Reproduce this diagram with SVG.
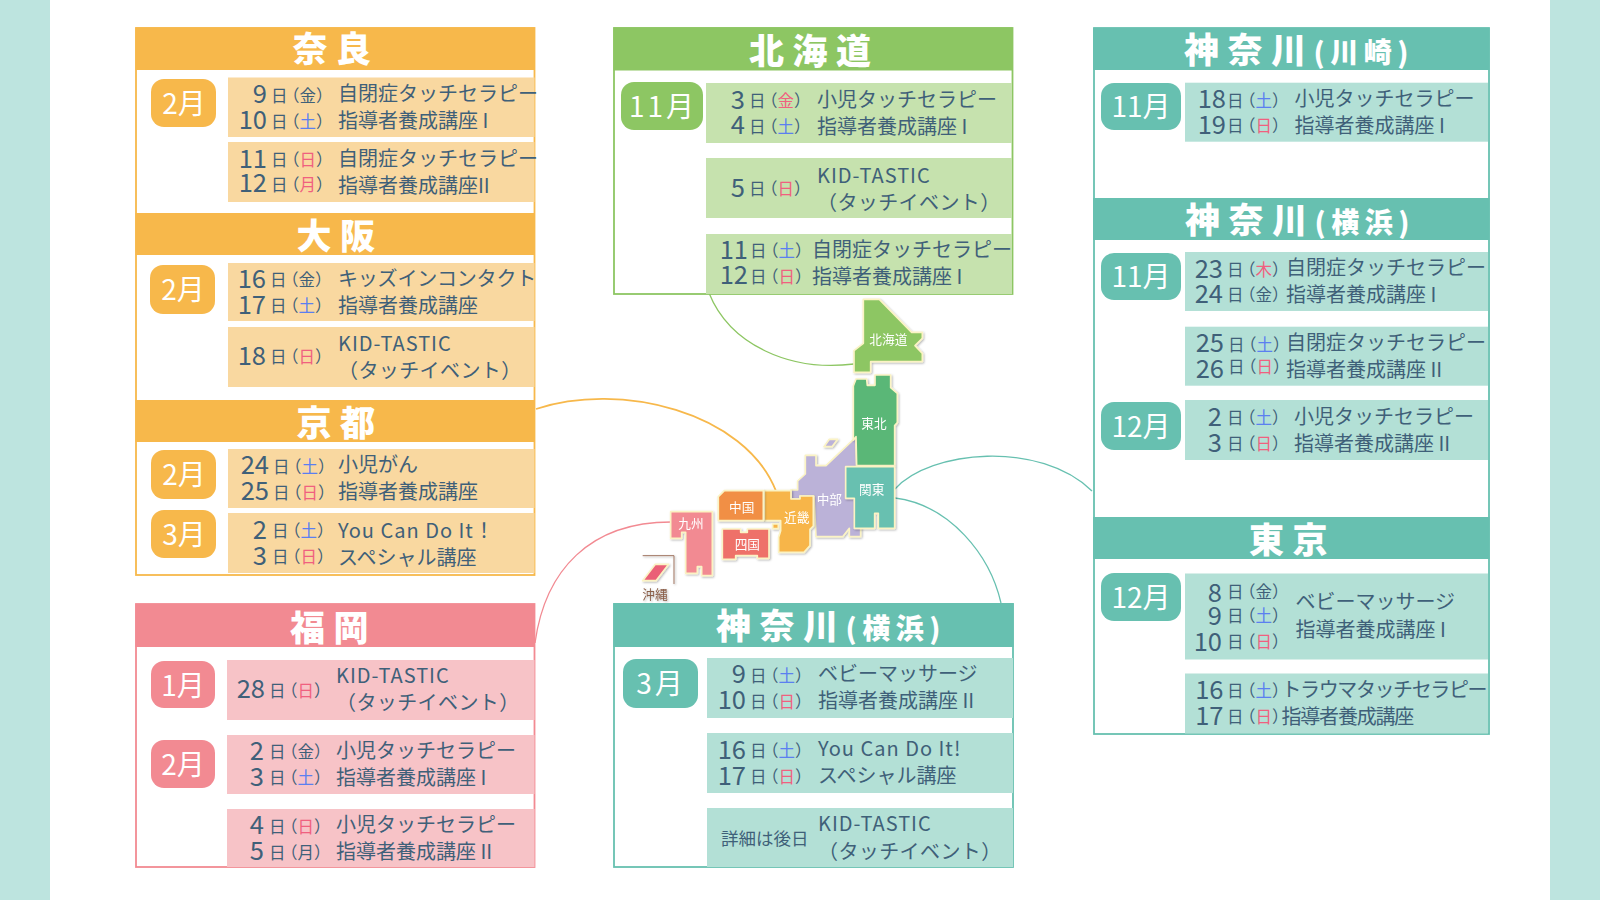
<svg xmlns="http://www.w3.org/2000/svg" width="1600" height="900" viewBox="0 0 1600 900">
<style>
text{font-family:"Noto Sans CJK JP","Noto Sans",sans-serif}
.h{font-size:35px;font-weight:900;fill:#fff;letter-spacing:8.5px}
.hs{font-size:28px;letter-spacing:5.5px}
.m{font-size:28px;fill:#fff;text-anchor:middle;transform:translateY(1px)}
.mw{letter-spacing:3px}
.n{font-size:25.5px;fill:#3f6079;text-anchor:end}
.w{font-size:16.5px;fill:#3f6079;transform:translateY(-1.5px)}
.j{font-size:20px;fill:#3f6079;transform:translateY(1px)}
.l{letter-spacing:1px}
.k{letter-spacing:.4px}
.b{fill:#5b7ff0}.r{fill:#f0607f}
.o{fill:#f7b84b}.ol{fill:#f9d8a0}.os{stroke:#f7b84b}
.p{fill:#f28a92}.pl{fill:#f7c3c7}.ps{stroke:#f28a92}
.g{fill:#8dc663}.gl{fill:#c6e2ae}.gs{stroke:#8dc663}
.t{fill:#67c0b0}.tl{fill:#b3e0d6}.ts{stroke:#67c0b0}
.f{fill:#fff;stroke-width:1.8}
.c{fill:none;stroke-width:1.3}
.c2{stroke-width:1.8}
.reg polygon,.reg rect{stroke:#fbf3c4;stroke-width:5;stroke-linejoin:round}
.reg text{font-size:38px;fill:#fff;text-anchor:middle}
</style>
<defs><filter id="sh" x="-20%" y="-20%" width="140%" height="140%"><feDropShadow dx="3" dy="3" stdDeviation="2.5" flood-color="#000" flood-opacity=".3"/></filter></defs>
<rect width="1600" height="900" fill="#fff"/>
<rect width="50" height="900" fill="#bde4df"/><rect x="1550" width="50" height="900" fill="#bde4df"/>

<g id="connectors">
<path class="c" stroke="#8dc663" d="M709,293C730,345 790,372 854,364"/>
<path class="c c2" stroke="#f7b84b" d="M536,409C620,381 745,412 776,491"/>
<path class="c" stroke="#f28a92" d="M535,643C545,570 590,522 671,522"/>
<path class="c" stroke="#67c0b0" d="M895,489C930,450 1040,440 1092,491"/>
<path class="c" stroke="#67c0b0" d="M895,498C950,505 990,555 1001,603"/>
</g>

<g id="map" transform="translate(620,280) scale(.33333)">
<g id="r-hokkaido" class="reg" filter="url(#sh)"><polygon class="g" points="730,58 778,58 875,157 907,157 907,175 885,197 907,220 907,245 752,245 752,277 702,277 702,212 730,190"/><text x="805" y="193">北海道</text></g>
<g id="r-chubu" class="reg" filter="url(#sh)"><polygon fill="#bbb2d8" points="628,478 653,478 636,500 612,500"/><polygon fill="#bbb2d8" points="707,472 710,558 722,745 722,770 688,770 688,745 668,770 588,770 582,648 540,648 540,657 513,657 513,630 533,630 533,603 556,582 556,526 588,526 588,557 618,557"/><text x="628" y="673">中部</text></g>
<g id="r-tohoku" class="reg" filter="url(#sh)"><polygon fill="#5ab777" points="708,297 740,297 742,316 765,316 765,285 812,285 812,323 832,340 832,428 824,437 824,557 710,557 708,470 700,480 700,318"/><text x="762" y="443">東北</text></g>
<g id="r-kanto" class="reg" filter="url(#sh)"><polygon class="t" points="677,560 824,560 824,745 775,745 775,700 764,700 764,745 703,745 703,655 677,655"/><text x="755" y="641">関東</text></g>
<g id="r-kinki" class="reg" filter="url(#sh)"><polygon fill="#f7b548" points="433,632 513,632 513,657 540,657 540,648 580,648 580,738 570,748 570,797 552,817 476,817 476,772 482,752 482,722 433,722"/><rect x="458" y="732" width="17" height="14" fill="#f7b548"/><text x="530" y="725">近畿</text></g>
<g id="r-chugoku" class="reg" filter="url(#sh)"><polygon fill="#f18f44" points="313,632 430,632 430,722 295,722 295,650"/><text x="365" y="695">中国</text></g>
<g id="r-shikoku" class="reg" filter="url(#sh)"><polygon fill="#ee7169" points="307,747 362,747 362,757 382,757 382,747 447,747 447,835 412,835 412,827 347,827 347,838 307,838"/><text x="382" y="806">四国</text></g>
<g id="r-kyushu" class="reg" filter="url(#sh)"><polygon class="p" points="152,695 277,695 277,887 245,887 245,860 232,860 232,880 197,880 197,757 185,757 185,775 152,775"/><text x="213" y="745">九州</text></g>
<g id="r-okinawa" class="reg" filter="url(#sh)"><path d="M68,827H162V912" fill="none" stroke="#a07460" stroke-width="3"/><polygon fill="#ea6077" points="106,853 146,853 108,902 68,902"/><text x="105" y="958" style="fill:#8a5e48">沖縄</text></g>
</g>

<g id="panel-left">
<rect class="f os" x="136" y="28" width="398.5" height="547"/>
<g id="nara">
<rect class="o" x="135.5" y="27.5" width="399" height="42.5"/>
<text class="h" x="292.5" y="62">奈良</text>
<rect class="o" x="151" y="79" width="65" height="48" rx="13"/><text class="m" x="184" y="113">2月</text>
<g transform="translate(228,77.5)"><rect class="ol" width="306.5" height="59.5"/>
<text class="n" x="39" y="25.5">9</text><text class="w" x="43" y="25.5">日<tspan dx="-4.5">（</tspan>金）</text><text class="j" x="110" y="22">自閉症タッチセラピー</text>
<text class="n" x="39" y="51.5">10</text><text class="w" x="43" y="51.5">日<tspan dx="-4.5">（</tspan><tspan class="b">土</tspan>）</text><text class="j" x="110" y="49">指導者養成講座 I</text></g>
<g transform="translate(228,142)"><rect class="ol" width="306.5" height="60"/>
<text class="n" x="39" y="25.5">11</text><text class="w" x="43" y="25.5">日<tspan dx="-4.5">（</tspan><tspan class="r">日</tspan>）</text><text class="j" x="110" y="23">自閉症タッチセラピー</text>
<text class="n" x="39" y="50">12</text><text class="w" x="43" y="50">日<tspan dx="-4.5">（</tspan><tspan class="r">月</tspan>）</text><text class="j" x="110" y="50">指導者養成講座II</text></g>
</g>
<g id="osaka">
<rect class="o" x="135.5" y="213" width="399" height="42"/>
<text class="h" x="296.5" y="249">大阪</text>
<rect class="o" x="150" y="265" width="65" height="49" rx="13"/><text class="m" x="183" y="299">2月</text>
<g transform="translate(228,263)"><rect class="ol" width="306.5" height="58"/>
<text class="n" x="38" y="24.5">16</text><text class="w" x="42" y="24.5">日<tspan dx="-4.5">（</tspan>金）</text><text class="j" x="110" y="21.5" style="letter-spacing:-.2px">キッズインコンタクト</text>
<text class="n" x="38" y="50.5">17</text><text class="w" x="42" y="50.5">日<tspan dx="-4.5">（</tspan><tspan class="b">土</tspan>）</text><text class="j" x="110" y="48.5">指導者養成講座</text></g>
<g transform="translate(228,327)"><rect class="ol" width="306.5" height="60"/>
<text class="n" x="38" y="37.5">18</text><text class="w" x="42" y="37.5">日<tspan dx="-4.5">（</tspan><tspan class="r">日</tspan>）</text><text class="j l" x="110" y="23">KID-TASTIC</text><text class="j k" x="110" y="49.5">（タッチイベント）</text></g>
</g>
<g id="kyoto">
<rect class="o" x="135.5" y="400" width="399" height="42"/>
<text class="h" x="296.5" y="436">京都</text>
<rect class="o" x="151" y="450" width="65" height="49" rx="13"/><text class="m" x="184" y="484">2月</text>
<rect class="o" x="151" y="510" width="65" height="48" rx="13"/><text class="m" x="184" y="544">3月</text>
<g transform="translate(228,449)"><rect class="ol" width="306.5" height="59"/>
<text class="n" x="41" y="25">24</text><text class="w" x="45" y="25">日<tspan dx="-4.5">（</tspan><tspan class="b">土</tspan>）</text><text class="j" x="110" y="22">小児がん</text>
<text class="n" x="41" y="51">25</text><text class="w" x="45" y="51">日<tspan dx="-4.5">（</tspan><tspan class="r">日</tspan>）</text><text class="j" x="110" y="49">指導者養成講座</text></g>
<g transform="translate(228,513)"><rect class="ol" width="306.5" height="60"/>
<text class="n" x="39" y="25.5">2</text><text class="w" x="44" y="25.5">日<tspan dx="-4.5">（</tspan><tspan class="b">土</tspan>）</text><text class="j l" x="110" y="24">You Can Do It！</text>
<text class="n" x="39" y="51.5">3</text><text class="w" x="44" y="51.5">日<tspan dx="-4.5">（</tspan><tspan class="r">日</tspan>）</text><text class="j" x="110" y="51">スペシャル講座</text></g>
</g>
</g>

<g id="fukuoka">
<rect class="f ps" x="136" y="604" width="398.5" height="263"/>
<rect class="p" x="135.5" y="604" width="399" height="43"/>
<text class="h" x="290" y="641">福岡</text>
<rect class="p" x="151" y="661" width="64" height="47" rx="13"/><text class="m" x="183" y="695">1月</text>
<rect class="p" x="151" y="740" width="64" height="48" rx="13"/><text class="m" x="183" y="774">2月</text>
<g transform="translate(227,660)"><rect class="pl" width="307.5" height="60"/>
<text class="n" x="38" y="38">28</text><text class="w" x="42" y="38">日<tspan dx="-4.5">（</tspan><tspan class="r">日</tspan>）</text><text class="j l" x="109" y="22">KID-TASTIC</text><text class="j k" x="109" y="49">（タッチイベント）</text></g>
<g transform="translate(227,735)"><rect class="pl" width="307.5" height="59"/>
<text class="n" x="37" y="24.5">2</text><text class="w" x="42" y="24.5">日<tspan dx="-4.5">（</tspan>金）</text><text class="j" x="109" y="22">小児タッチセラピー</text>
<text class="n" x="37" y="50.5">3</text><text class="w" x="42" y="50.5">日<tspan dx="-4.5">（</tspan><tspan class="b">土</tspan>）</text><text class="j" x="109" y="49">指導者養成講座 I</text></g>
<g transform="translate(227,809)"><rect class="pl" width="307.5" height="58"/>
<text class="n" x="37" y="25">4</text><text class="w" x="42" y="25">日<tspan dx="-4.5">（</tspan><tspan class="r">日</tspan>）</text><text class="j" x="109" y="22">小児タッチセラピー</text>
<text class="n" x="37" y="51">5</text><text class="w" x="42" y="51">日<tspan dx="-4.5">（</tspan>月）</text><text class="j" x="109" y="49">指導者養成講座 II</text></g>
</g>

<g id="hokkaido">
<rect class="f gs" x="614" y="28" width="398.5" height="266"/>
<rect class="g" x="613.5" y="27.5" width="399" height="43"/>
<text class="h" x="749" y="64">北海道</text>
<rect class="g" x="621" y="82" width="82" height="48" rx="13"/><text class="m mw" x="663" y="116">11月</text>
<g transform="translate(706,83)"><rect class="gl" width="306" height="60"/>
<text class="n" x="39" y="25.5">3</text><text class="w" x="43" y="25.5">日<tspan dx="-4.5">（</tspan><tspan class="r">金</tspan>）</text><text class="j" x="111" y="22.5">小児タッチセラピー</text>
<text class="n" x="39" y="51">4</text><text class="w" x="43" y="51">日<tspan dx="-4.5">（</tspan><tspan class="b">土</tspan>）</text><text class="j" x="111" y="50">指導者養成講座 I</text></g>
<g transform="translate(706,158)"><rect class="gl" width="306" height="60"/>
<text class="n" x="39" y="38.5">5</text><text class="w" x="43" y="38.5">日<tspan dx="-4.5">（</tspan><tspan class="r">日</tspan>）</text><text class="j l" x="111" y="24">KID-TASTIC</text><text class="j k" x="111" y="51">（タッチイベント）</text></g>
<g transform="translate(706,234)"><rect class="gl" width="306" height="60"/>
<text class="n" x="42" y="24.5">11</text><text class="w" x="44" y="24.5">日<tspan dx="-4.5">（</tspan><tspan class="b">土</tspan>）</text><text class="j" x="106" y="22">自閉症タッチセラピー</text>
<text class="n" x="42" y="50">12</text><text class="w" x="44" y="50">日<tspan dx="-4.5">（</tspan><tspan class="r">日</tspan>）</text><text class="j" x="106" y="48.5">指導者養成講座 I</text></g>
</g>

<g id="yokohama-bottom">
<rect class="f ts" x="614" y="604" width="399" height="263"/>
<rect class="t" x="613.5" y="603" width="400" height="44"/>
<text class="h" x="716" y="638.5">神奈川<tspan class="hs" dx="-1">(横浜)</tspan></text>
<rect class="t" x="623" y="659" width="75" height="49" rx="13"/><text class="m mw" x="661" y="693">3月</text>
<g transform="translate(707,658)"><rect class="tl" width="306" height="60"/>
<text class="n" x="39" y="25">9</text><text class="w" x="43" y="25">日<tspan dx="-4.5">（</tspan><tspan class="b">土</tspan>）</text><text class="j" x="111" y="22">ベビーマッサージ</text>
<text class="n" x="39" y="51">10</text><text class="w" x="43" y="51">日<tspan dx="-4.5">（</tspan><tspan class="r">日</tspan>）</text><text class="j" x="111" y="49">指導者養成講座 II</text></g>
<g transform="translate(707,733)"><rect class="tl" width="306" height="60"/>
<text class="n" x="39" y="25.5">16</text><text class="w" x="43" y="25.5">日<tspan dx="-4.5">（</tspan><tspan class="b">土</tspan>）</text><text class="j l" x="111" y="22">You Can Do It!</text>
<text class="n" x="39" y="51.5">17</text><text class="w" x="43" y="51.5">日<tspan dx="-4.5">（</tspan><tspan class="r">日</tspan>）</text><text class="j" x="111" y="49">スペシャル講座</text></g>
<g transform="translate(707,808)"><rect class="tl" width="306" height="59"/>
<text class="j" x="14" y="36" style="font-size:17.5px">詳細は後日</text>
<text class="j l" x="111" y="22">KID-TASTIC</text><text class="j k" x="111" y="49.5">（タッチイベント）</text></g>
</g>

<g id="panel-right">
<rect class="f ts" x="1094" y="28" width="395" height="706"/>
<g id="kawasaki">
<rect class="t" x="1093" y="28" width="396.5" height="42"/>
<text class="h" x="1184" y="63">神奈川<tspan class="hs" dx="-1">(川崎)</tspan></text>
<rect class="t" x="1101" y="83" width="80" height="47" rx="13"/><text class="m" x="1141" y="116">11月</text>
<g transform="translate(1185,82.7)"><rect class="tl" width="303" height="59"/>
<text class="n" x="41" y="25.5">18</text><text class="w" x="42" y="25.5">日<tspan dx="-4.5">（</tspan><tspan class="b">土</tspan>）</text><text class="j" x="109.5" y="22">小児タッチセラピー</text>
<text class="n" x="41" y="51">19</text><text class="w" x="42" y="51">日<tspan dx="-4.5">（</tspan><tspan class="r">日</tspan>）</text><text class="j" x="109.5" y="49">指導者養成講座 I</text></g>
</g>
<g id="yokohama-right">
<rect class="t" x="1093" y="198" width="396.5" height="42"/>
<text class="h" x="1185" y="232.5">神奈川<tspan class="hs" dx="-1">(横浜)</tspan></text>
<rect class="t" x="1101" y="253" width="80" height="47" rx="13"/><text class="m" x="1141" y="286">11月</text>
<rect class="t" x="1101" y="402" width="80" height="48" rx="13"/><text class="m" x="1141" y="436">12月</text>
<g transform="translate(1185,252)"><rect class="tl" width="303" height="59"/>
<text class="n" x="38" y="25.5">23</text><text class="w" x="42" y="25.5">日<tspan dx="-4.5">（</tspan><tspan class="r">木</tspan>）</text><text class="j" x="101" y="22">自閉症タッチセラピー</text>
<text class="n" x="38" y="50.5">24</text><text class="w" x="42" y="50.5">日<tspan dx="-4.5">（</tspan>金）</text><text class="j" x="101" y="49">指導者養成講座 I</text></g>
<g transform="translate(1185,326.7)"><rect class="tl" width="303" height="59"/>
<text class="n" x="39" y="25.5">25</text><text class="w" x="43" y="25.5">日<tspan dx="-4.5">（</tspan><tspan class="b">土</tspan>）</text><text class="j" x="101" y="22">自閉症タッチセラピー</text>
<text class="n" x="39" y="51">26</text><text class="w" x="43" y="48">日<tspan dx="-4.5">（</tspan><tspan class="r">日</tspan>）</text><text class="j" x="101" y="49">指導者養成講座 II</text></g>
<g transform="translate(1185,400)"><rect class="tl" width="303" height="60"/>
<text class="n" x="37" y="25.5">2</text><text class="w" x="42" y="25.5">日<tspan dx="-4.5">（</tspan><tspan class="b">土</tspan>）</text><text class="j" x="109" y="23">小児タッチセラピー</text>
<text class="n" x="37" y="51.5">3</text><text class="w" x="42" y="51.5">日<tspan dx="-4.5">（</tspan><tspan class="r">日</tspan>）</text><text class="j" x="109" y="50">指導者養成講座 II</text></g>
</g>
<g id="tokyo">
<rect class="t" x="1093" y="517" width="396.5" height="42"/>
<text class="h" x="1249" y="552.5">東京</text>
<rect class="t" x="1101" y="573" width="80" height="48" rx="13"/><text class="m" x="1141" y="607">12月</text>
<g transform="translate(1185,573.5)"><rect class="tl" width="303" height="86"/>
<text class="n" x="37" y="28.5">8</text><text class="w" x="42" y="25.5">日<tspan dx="-4.5">（</tspan>金）</text>
<text class="n" x="37" y="51.5">9</text><text class="w" x="42" y="50">日<tspan dx="-4.5">（</tspan><tspan class="b">土</tspan>）</text>
<text class="n" x="37" y="77">10</text><text class="w" x="42" y="76">日<tspan dx="-4.5">（</tspan><tspan class="r">日</tspan>）</text>
<text class="j" x="110.5" y="34.5">ベビーマッサージ</text><text class="j" x="110.5" y="62">指導者養成講座 I</text></g>
<g transform="translate(1185,673.5)"><rect class="tl" width="303" height="60"/>
<text class="n" x="38.5" y="25">16</text><text class="w" x="42" y="25">日<tspan dx="-4.5">（</tspan><tspan class="b">土</tspan>）</text><text class="j" x="96.5" y="22" style="letter-spacing:-1.4px">トラウマタッチセラピー</text>
<text class="n" x="38.5" y="51">17</text><text class="w" x="42" y="50.5">日<tspan dx="-4.5">（</tspan><tspan class="r">日</tspan>）</text><text class="j" x="96.5" y="49" style="letter-spacing:-1.2px">指導者養成講座</text></g>
</g>
</g>
</svg>
